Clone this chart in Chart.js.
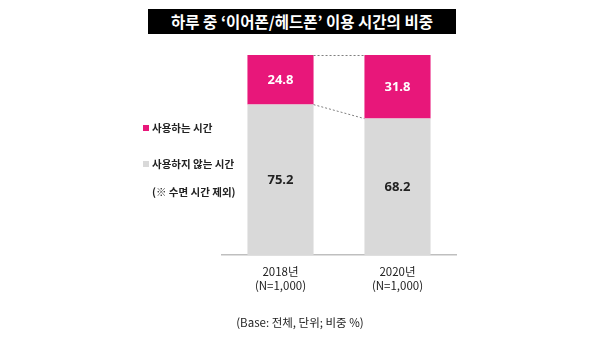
<!DOCTYPE html>
<html><head><meta charset="utf-8">
<script src="https://cdn.jsdelivr.net/npm/chart.js@4/dist/chart.umd.min.js"></script>
<style>
html,body{margin:0;padding:0;background:#fff;}
#wrap{position:relative;width:600px;height:345px;overflow:hidden;font-family:"Noto Sans CJK KR","Noto Sans",sans-serif;}
#c{position:absolute;left:0;top:0;}
.title{position:absolute;left:148px;top:9px;width:308px;height:25px;background:#000;color:#fff;font-size:15.5px;font-weight:700;line-height:25px;text-align:center;letter-spacing:0px;}
.leg{position:absolute;left:143px;font-size:10.5px;font-weight:700;color:#222;white-space:nowrap;line-height:14px;}
.sq{display:inline-block;width:6px;height:6px;margin-right:3px;vertical-align:1px;}
.foot{position:absolute;left:0;width:600px;top:314px;text-align:center;font-size:11.5px;color:#222;}
</style></head>
<body><div id="wrap">
<canvas id="c" width="600" height="345"></canvas>
<div class="title">하루 중 ‘이어폰/헤드폰’ 이용 시간의 비중</div>
<div class="leg" style="top:121px"><span class="sq" style="background:#E8177A"></span>사용하는 시간</div>
<div class="leg" style="top:157px"><span class="sq" style="background:#D9D9D9"></span>사용하지 않는 시간</div>
<div class="leg" style="top:185px;left:152px">(※ 수면 시간 제외)</div>
<div class="foot">(Base: 전체, 단위; 비중 %)</div>
</div>
<script>
const categories = [["2018년","(N=1,000)"],["2020년","(N=1,000)"]];
const notUsing = [75.2, 68.2];
const using = [24.8, 31.8];
const seriesNames = ["사용하지 않는 시간","사용하는 시간"];

const valueLabels = {
  id:'valueLabels',
  afterDatasetsDraw(chart){
    const ctx = chart.ctx;
    ctx.save();
    ctx.font = 'bold 13px "Open Sans", sans-serif';
    ctx.textAlign='center'; ctx.textBaseline='middle';
    chart.data.datasets.forEach((ds,i)=>{
      const meta = chart.getDatasetMeta(i);
      meta.data.forEach((el,j)=>{
        ctx.fillStyle = i===1 ? '#ffffff' : '#222222';
        ctx.fillText(ds.data[j].toFixed(1), el.x, (el.y+el.base)/2);
      });
    });
    ctx.restore();
  }
};
const connectors = {
  id:'connectors',
  afterDatasetsDraw(chart){
    const meta = chart.getDatasetMeta(1);
    const a = meta.data[0], b = meta.data[1];
    const ctx = chart.ctx;
    ctx.save();
    ctx.strokeStyle='#7f7f7f'; ctx.lineWidth=1; ctx.setLineDash([2,2]);
    ctx.beginPath();
    ctx.moveTo(a.x+a.width/2, a.y+0.5); ctx.lineTo(b.x-b.width/2, b.y+0.5);
    ctx.moveTo(a.x+a.width/2, a.base); ctx.lineTo(b.x-b.width/2, b.base);
    ctx.stroke();
    ctx.restore();
  }
};

new Chart(document.getElementById('c'),{
  type:'bar',
  data:{labels:categories,datasets:[
    {label:seriesNames[0],data:notUsing,backgroundColor:'#D9D9D9',barPercentage:0.565,categoryPercentage:1},
    {label:seriesNames[1],data:using,backgroundColor:'#E8177A',barPercentage:0.565,categoryPercentage:1}
  ]},
  options:{
    responsive:false,animation:false,
    layout:{padding:{left:222,right:144,top:55,bottom:0}},
    plugins:{legend:{display:false},tooltip:{enabled:false}},
    scales:{
      y:{stacked:true,display:false,min:0,max:100},
      x:{stacked:true,
        afterFit(s){s.height=90;},
        grid:{display:false,drawTicks:false},
        border:{display:true,color:'#BFBFBF',width:1.5},
        ticks:{padding:10,color:'#222',font:{family:'"Noto Sans CJK KR", sans-serif',size:11.5}}
      }
    }
  },
  plugins:[valueLabels,connectors]
});
</script>
</body></html>
